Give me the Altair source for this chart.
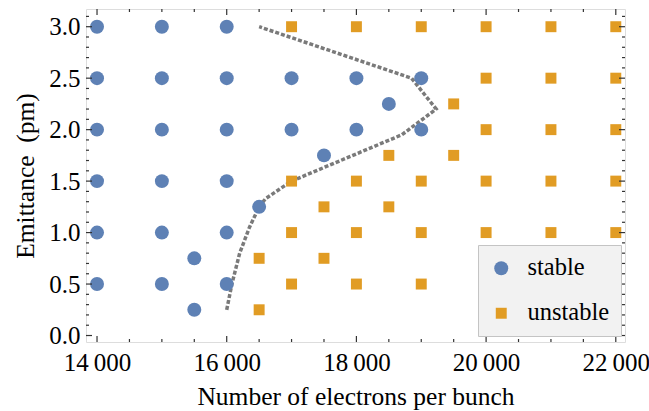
import altair as alt
import pandas as pd

# ---- data ----
stable_x = [14000, 15000, 16000,
            14000, 15000, 16000, 17000, 18000, 19000,
            18500,
            14000, 15000, 16000, 17000, 18000, 19000,
            17500,
            14000, 15000, 16000,
            16500,
            14000, 15000, 16000,
            15500,
            14000, 15000, 16000,
            15500]
stable_y = [3.0, 3.0, 3.0,
            2.5, 2.5, 2.5, 2.5, 2.5, 2.5,
            2.25,
            2.0, 2.0, 2.0, 2.0, 2.0, 2.0,
            1.75,
            1.5, 1.5, 1.5,
            1.25,
            1.0, 1.0, 1.0,
            0.75,
            0.5, 0.5, 0.5,
            0.25]
unstable_x = [17000, 18000, 19000, 20000, 21000, 22000,
              20000, 21000, 22000,
              19500,
              20000, 21000, 22000,
              18500, 19500,
              17000, 18000, 19000, 20000, 21000, 22000,
              17500, 18500,
              17000, 18000, 19000, 20000, 21000, 22000,
              16500, 17500,
              17000, 18000, 19000, 20000, 21000, 22000,
              16500]
unstable_y = [3.0, 3.0, 3.0, 3.0, 3.0, 3.0,
              2.5, 2.5, 2.5,
              2.25,
              2.0, 2.0, 2.0,
              1.75, 1.75,
              1.5, 1.5, 1.5, 1.5, 1.5, 1.5,
              1.25, 1.25,
              1.0, 1.0, 1.0, 1.0, 1.0, 1.0,
              0.75, 0.75,
              0.5, 0.5, 0.5, 0.5, 0.5, 0.5,
              0.25]

# boundary (dashed line)
bound_x = [16000, 16080, 16200, 16350, 16500, 16600, 17000, 18700, 19230, 18850, 16500]
bound_y = [0.25, 0.5, 0.8, 1.05, 1.25, 1.33, 1.5, 1.95, 2.2, 2.5, 3.0]

x_major = [14000, 16000, 18000, 20000, 22000]
x_minor = [14500, 15000, 15500, 16500, 17000, 17500, 18500, 19000, 19500,
           20500, 21000, 21500]
y_major = [0.0, 0.5, 1.0, 1.5, 2.0, 2.5, 3.0]
y_minor = [0.1, 0.2, 0.3, 0.4, 0.6, 0.7, 0.8, 0.9, 1.1, 1.2, 1.3, 1.4,
           1.6, 1.7, 1.8, 1.9, 2.1, 2.2, 2.3, 2.4, 2.6, 2.7, 2.8, 2.9, 3.1]

X_DOMAIN = [13830, 22142]
Y_DOMAIN = [-0.063, 3.172]
W, H = 539, 333
FONT = "Liberation Serif"

pts = pd.DataFrame({
    "x": stable_x + unstable_x,
    "y": stable_y + unstable_y,
    "kind": ["stable"] * len(stable_x) + ["unstable"] * len(unstable_x),
})
bound = pd.DataFrame({"x": bound_x, "y": bound_y, "i": list(range(len(bound_x)))})

xs = alt.Scale(domain=X_DOMAIN, nice=False, zero=False)
ys = alt.Scale(domain=Y_DOMAIN, nice=False, zero=False)

xaxis = alt.Axis(values=x_major, ticks=False, domain=False, grid=False,
                 labelExpr="replace(format(datum.value, ','), ',', '\u2009')",
                 labelFont=FONT, labelFontSize=25, labelColor="black", labelPadding=8,
                 title="Number of electrons per bunch", titleFont=FONT, titleFontSize=25.5,
                 titleFontWeight="normal", titleColor="black", titlePadding=9)
yaxis = alt.Axis(values=y_major, ticks=False, domain=False, grid=False, format=".1f",
                 labelFont=FONT, labelFontSize=25, labelColor="black", labelPadding=6,
                 title="Emittance\u00a0 (pm)", titleFont=FONT, titleFontSize=25.5,
                 titleFontWeight="normal", titleColor="black", titlePadding=10)

line = alt.Chart(bound).mark_line(color="#7a7a7a", strokeDash=[4, 2], strokeWidth=3.5).encode(
    x=alt.X("x:Q", scale=xs, axis=xaxis),
    y=alt.Y("y:Q", scale=ys, axis=yaxis),
    order="i:Q",
)

points = alt.Chart(pts).mark_point(filled=True, opacity=1, strokeWidth=0).encode(
    x=alt.X("x:Q", scale=xs),
    y=alt.Y("y:Q", scale=ys),
    color=alt.Color("kind:N", scale=alt.Scale(domain=["stable", "unstable"], range=["#5E81B5", "#E19C24"]),
                    legend=alt.Legend(title=None, orient="none", legendX=392, legendY=236,
                                      fillColor="#f2f2f2", strokeColor="#c4c4c4",
                                      padding=11, labelFont=FONT, labelFontSize=24.5, labelColor="black",
                                      labelOffset=14, rowPadding=20, symbolOpacity=1, symbolStrokeWidth=0)),
    shape=alt.Shape("kind:N", scale=alt.Scale(domain=["stable", "unstable"], range=["circle", "square"])),
    size=alt.Size("kind:N", scale=alt.Scale(domain=["stable", "unstable"], range=[195, 120])),
)

tx_major = pd.DataFrame({"v": x_major})
tx_minor = pd.DataFrame({"v": x_minor})
ty_major = pd.DataFrame({"v": y_major})
ty_minor = pd.DataFrame({"v": y_minor})

TC = "#333333"

def xticks(df, length):
    bot = alt.Chart(df).mark_rule(color=TC, strokeWidth=1.2).encode(
        x=alt.X("v:Q", scale=xs), y=alt.value(H), y2=alt.value(H - length))
    top = alt.Chart(df).mark_rule(color=TC, strokeWidth=1.2).encode(
        x=alt.X("v:Q", scale=xs), y=alt.value(0), y2=alt.value(length))
    return [bot, top]

def yticks(df, length):
    left = alt.Chart(df).mark_rule(color=TC, strokeWidth=1.2).encode(
        y=alt.Y("v:Q", scale=ys), x=alt.value(0), x2=alt.value(length))
    right = alt.Chart(df).mark_rule(color=TC, strokeWidth=1.2).encode(
        y=alt.Y("v:Q", scale=ys), x=alt.value(W), x2=alt.value(W - length))
    return [left, right]

layers = [line, points] + xticks(tx_major, 6) + xticks(tx_minor, 3) + yticks(ty_major, 6) + yticks(ty_minor, 3)

chart = alt.layer(*layers).properties(
    width=W, height=H,
    autosize=alt.AutoSizeParams(type="none"),
    padding={"left": 86, "top": 9, "right": 24, "bottom": 69},
).configure_view(
    stroke="#333333", strokeWidth=1.5, fill="white"
).configure_legend(
    strokeWidth=2
).configure(background="white")

chart.save("out.html", embed_options={"renderer": "svg", "actions": False})
